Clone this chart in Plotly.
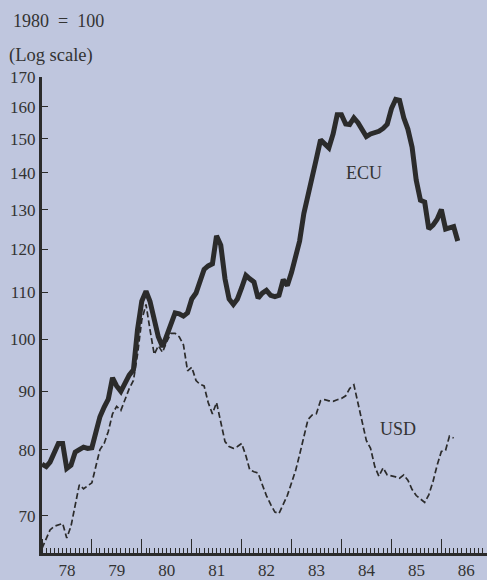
import plotly.graph_objects as go
import pandas as pd
import math

ecu = [77.7, 77.3, 78.0, 79.5, 81.0, 81.0, 77.0, 77.5, 79.6, 80.0, 80.4, 80.2,
       80.3, 83.0, 85.5, 87.2, 88.6, 92.5, 91.0, 90.0, 91.8, 93.0, 94.0, 102.0,
       108.0, 110.2, 108.0, 104.5, 100.5, 98.5, 100.8, 102.8, 105.5, 105.3, 104.8, 105.5,
       108.5, 109.8, 112.5, 115.2, 116.0, 116.5, 123.3, 121.0, 113.0, 108.5, 107.3, 108.5,
       111.0, 113.8, 113.0, 112.3, 108.7, 109.8, 110.4, 109.3, 109.0, 109.3, 112.8, 111.5,
       114.5, 118.5, 122.0, 129.0, 133.5, 138.0, 144.0, 149.7, 148.5, 147.3, 151.5, 157.5,
       157.5, 154.6, 154.4, 156.5, 155.0, 152.5, 150.7, 151.5, 151.9, 152.3, 153.2, 154.5,
       159.5, 162.5, 162.2, 156.5, 153.0, 147.5, 138.0, 132.5, 132.0, 125.0, 126.0, 127.5,
       130.0, 125.0, 125.3, 125.6, 122.0]

usd = [65.5, 66.8, 68.0, 68.5, 68.7, 68.9, 66.9, 68.5, 71.5, 74.5, 73.9, 74.3,
       74.8, 77.5, 80.0, 81.0, 83.0, 86.0, 87.3, 86.6, 88.5, 90.5, 92.0, 97.0,
       104.0, 107.3, 102.0, 97.0, 98.7, 97.4, 99.5, 101.2, 101.2, 100.5, 98.9, 93.8,
       94.5, 92.0, 91.3, 91.0, 88.0, 86.0, 88.0, 84.5, 81.3, 80.5, 80.2, 80.5,
       81.0, 79.0, 76.8, 76.5, 76.3, 74.5, 72.9, 71.6, 70.5, 70.3, 71.5, 72.9,
       74.8, 76.8, 79.2, 82.0, 85.0, 85.8, 86.0, 88.3, 88.5, 88.3, 88.2, 88.5,
       88.7, 89.2, 90.5, 91.2, 88.0, 85.0, 81.5, 80.2, 77.3, 75.8, 77.1, 76.0,
       75.9, 75.7, 75.5, 76.0, 75.2, 73.8, 72.9, 72.4, 71.9, 73.0, 75.0, 77.5,
       79.7, 79.9, 82.2, 81.9]

y_ticks = [70, 80, 90, 100, 110, 120, 130, 140, 150, 160, 170]

ecu_dates = pd.date_range("1978-01-01", periods=len(ecu), freq="MS")
usd_dates = pd.date_range("1978-01-01", periods=len(usd), freq="MS")

ink = "#2b2b2b"
txt = "#333333"
bg = "#bfc6de"
font_family = "Liberation Serif, Times New Roman, serif"

fig = go.Figure()
fig.add_trace(go.Scatter(x=usd_dates, y=usd, mode="lines",
                         line=dict(color=ink, width=1.7, dash="6px,3px"),
                         showlegend=False, hoverinfo="skip"))
fig.add_trace(go.Scatter(x=ecu_dates, y=ecu, mode="lines",
                         line=dict(color=ink, width=5),
                         showlegend=False, hoverinfo="skip"))

H = 580 - 77 - 24
W = 487 - 42

fig.update_layout(
    width=487, height=580,
    margin=dict(l=42, r=0, t=77, b=24),
    paper_bgcolor=bg, plot_bgcolor=bg,
    font=dict(family=font_family, size=17, color=txt),
    xaxis=dict(
        type="date",
        range=["1978-01-01", "1986-12-01"],
        dtick="M12", tick0="1978-01-01",
        tickformat="%y", ticklabelmode="period",
        ticks="inside", ticklen=14, tickwidth=1.2, tickcolor=ink,
        minor=dict(dtick="M1", ticks="inside", ticklen=5, tickwidth=1, tickcolor=ink),
        showline=True, linecolor=ink, linewidth=3,
        showgrid=False, zeroline=False,
        tickfont=dict(size=17, family=font_family, color=txt),
    ),
    yaxis=dict(
        type="log",
        range=[math.log10(64.9), math.log10(170)],
        tickvals=y_ticks, ticktext=[str(v) for v in y_ticks],
        ticks="inside", ticklen=6, tickwidth=1.2, tickcolor=ink,
        showline=True, linecolor=ink, linewidth=3,
        showgrid=False, zeroline=False,
        tickfont=dict(size=17, family=font_family, color=txt),
    ),
    annotations=[
        dict(text="1980\u00a0\u00a0=\u00a0\u00a0100", xref="paper", yref="paper",
             x=-42 / W, y=1 + (77 - 21) / H,
             xanchor="left", yanchor="middle", xshift=11, showarrow=False,
             font=dict(size=18, family=font_family, color=txt)),
        dict(text="(Log scale)", xref="paper", yref="paper",
             x=-42 / W, y=1 + (77 - 55) / H,
             xanchor="left", yanchor="middle", xshift=7, showarrow=False,
             font=dict(size=18.5, family=font_family, color=txt)),
        dict(text="ECU", x="1984-06-15", y=math.log10(140.1), xref="x", yref="y",
             showarrow=False, font=dict(size=18, family=font_family, color=txt)),
        dict(text="USD", x="1985-02-15", y=math.log10(83.4), xref="x", yref="y",
             showarrow=False, font=dict(size=18, family=font_family, color=txt)),
    ],
)

fig.write_html("out.html")
